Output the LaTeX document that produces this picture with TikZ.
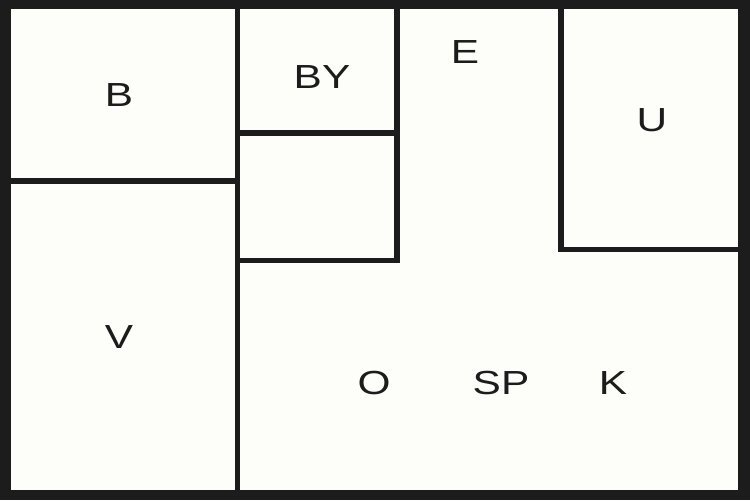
\documentclass[tikz,border=0pt]{standalone}
\usepackage{fontspec}
\setmainfont{Liberation Sans}
\newfontfamily\roomfont[FakeStretch=1.27]{Liberation Sans}
\usepackage{xcolor}
\definecolor{wallgray}{HTML}{1C1C1C}
\definecolor{floorwhite}{HTML}{FDFDF9}

\begin{document}
\begin{tikzpicture}[x=0.02cm,y=-0.02cm,
		wall/.style={draw=wallgray,line width=0.11cm,line join=miter},
		room/.style={font=\roomfont\fontsize{19}{20}\selectfont,text=wallgray,inner sep=0pt,text height=13.6pt,text depth=0pt}]
	% outer frame and floor
	\fill[wallgray] (0,0) rectangle (750,500);
	\fill[floorwhite] (11,9) rectangle (738,490);
	\useasboundingbox (0,0) rectangle (750,500);
	
	% inner walls
	\draw[wall] (237.5,5) -- (237.5,495);
	\draw[wall] (5,181) -- (237.5,181);
	\draw[wall] (237.5,133) -- (397,133);
	\draw[wall] (397,5) -- (397,260.5) -- (237.5,260.5);
	\draw[wall] (561,5) -- (561,249.5) -- (745,249.5);
	
	% room labels
	\node[room] (b) at (119,95) {B};
	\node[room] (by) at (322,77) {BY};
	\node[room] (e) at (465,52) {E};
	\node[room] (u) at (652,120) {U};
	\node[room] (v) at (119,337) {V};
	\node[room] (o) at (374,383) {O};
	\node[room] (sp) at (501,383) {SP};
	\node[room] (k) at (613,383) {K};
\end{tikzpicture}
\end{document}
